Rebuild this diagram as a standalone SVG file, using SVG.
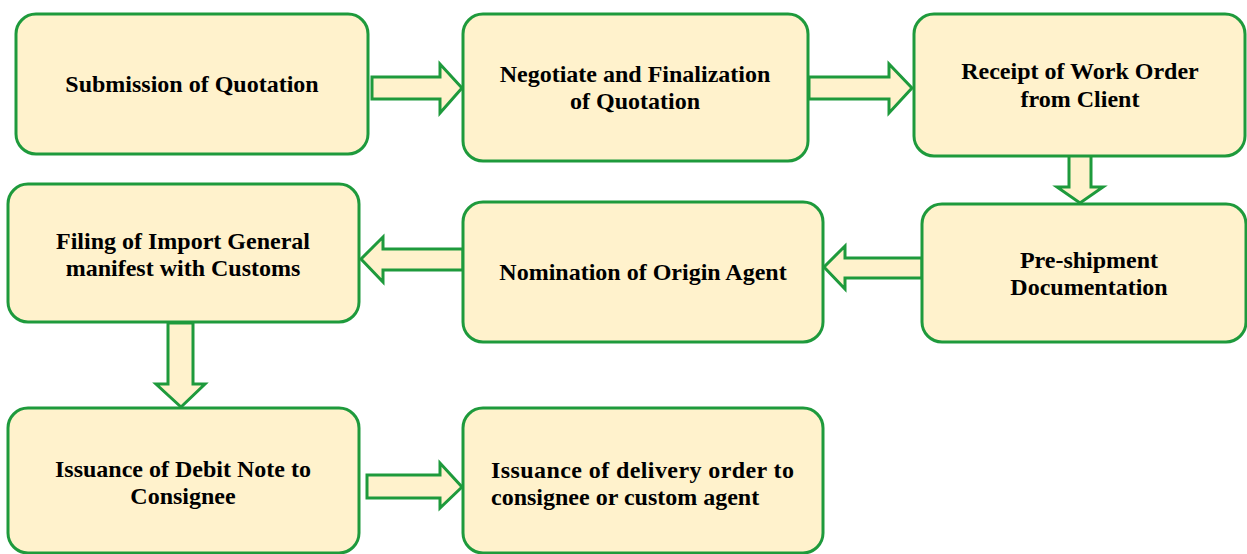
<svg xmlns="http://www.w3.org/2000/svg" width="1247" height="554" viewBox="0 0 1247 554">
<style>
.box{fill:#fff2cc;stroke:#1e9a3c;stroke-width:3}
.arr{fill:#fff2cc;stroke:#1e9a3c;stroke-width:3;stroke-linejoin:miter}
.t{font-family:"Liberation Serif","Times New Roman",serif;font-weight:bold;font-size:24px;fill:#000;text-anchor:middle}
.l{text-anchor:start}
</style>
<rect width="1247" height="554" fill="#fff"/>
<g id="connectors">
<polygon class="arr" points="372,77 440,77 440,64 462,88 440,113 440,99 372,99"/>
<polygon class="arr" points="809,77 889,77 889,64 912,88 889,113 889,99 809,99"/>
<polygon class="arr" points="1069,155 1091,155 1091,187 1103,187 1080,203 1057,187 1069,187"/>
<polygon class="arr" points="922,258 845,258 845,246 824,267 845,289 845,278 922,278"/>
<polygon class="arr" points="463,249 383,249 383,237 361,259 383,282 383,270 463,270"/>
<polygon class="arr" points="168,323 193,323 193,384 205,384 181,407 156,384 168,384"/>
<polygon class="arr" points="367,475 440,475 440,463 462,487 440,508 440,498 367,498"/>
</g>
<g id="n1"><rect class="box" x="16" y="14" width="352" height="140" rx="20"/>
<text class="t" x="192" y="92">Submission of Quotation</text></g>
<g id="n2"><rect class="box" x="463" y="14" width="345" height="147" rx="20"/>
<text class="t" x="635" y="82">Negotiate and Finalization</text><text class="t" x="635" y="109">of Quotation</text></g>
<g id="n3"><rect class="box" x="914" y="14" width="331" height="142" rx="20"/>
<text class="t" x="1080" y="79">Receipt of Work Order</text><text class="t" x="1080" y="107">from Client</text></g>
<g id="n4"><rect class="box" x="8" y="184" width="351" height="138" rx="20"/>
<text class="t" x="183" y="249">Filing of Import General</text><text class="t" x="183" y="276">manifest with Customs</text></g>
<g id="n5"><rect class="box" x="463" y="202" width="360" height="140" rx="20"/>
<text class="t" x="643" y="280">Nomination of Origin Agent</text></g>
<g id="n6"><rect class="box" x="922" y="204" width="324" height="138" rx="20"/>
<text class="t" x="1089" y="268">Pre-shipment</text><text class="t" x="1089" y="295">Documentation</text></g>
<g id="n7"><rect class="box" x="8" y="408" width="351" height="145" rx="20"/>
<text class="t" x="183" y="477">Issuance of Debit Note to</text><text class="t" x="183" y="504">Consignee</text></g>
<g id="n8"><rect class="box" x="463" y="408" width="360" height="145" rx="20"/>
<text class="t l" x="491" y="478" textLength="303" lengthAdjust="spacing">Issuance of delivery order to</text><text class="t l" x="491" y="505">consignee or custom agent</text></g>
</svg>
